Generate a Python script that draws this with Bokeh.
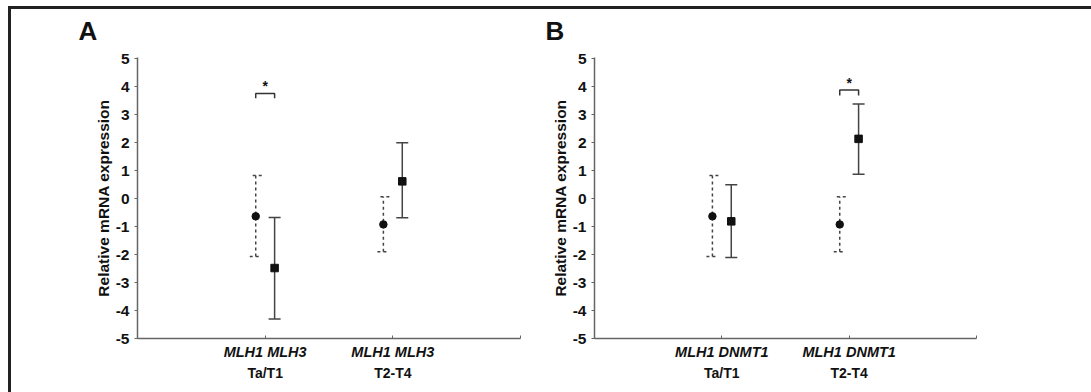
from bokeh.plotting import figure
from bokeh.models import (Whisker, TeeHead, ColumnDataSource, FixedTicker,
                          LinearAxis, Range1d)
from bokeh.layouts import row
from bokeh.embed import file_html
from bokeh.resources import INLINE

# ---------------- data ----------------
stages = ["Ta/T1", "T2-T4"]
y_ticks = [-5, -4, -3, -2, -1, 0, 1, 2, 3, 4, 5]
y_tick_labels = ["-5", "-4", "-3", "-2", "-1", "0", "1", "2", "3", "4", "5"]

mlh1_mean = [-0.63, -0.92]
mlh1_upper = [0.83, 0.07]
mlh1_lower = [-2.07, -1.90]

mlh3_mean = [-2.48, 0.62]
mlh3_upper = [-0.67, 2.00]
mlh3_lower = [-4.30, -0.68]

dnmt1_mean = [-0.81, 2.14]
dnmt1_upper = [0.50, 3.39]
dnmt1_lower = [-2.10, 0.87]

# significance markers: (stage index, bracket top, bracket leg bottom, star y)
sig_A = (0, 3.76, 3.59, 4.02)
sig_B = (1, 3.89, 3.69, 4.15)

FONT = "Liberation Sans"
DARK = "#111111"
LINE = "#444444"
AXC = "#666666"


def make_panel(letter, gene2, mean2, up2, lo2, sig, width, mbl, mbr, title_off):
    p = figure(width=width, height=392, frame_height=281, x_range=Range1d(0, 3),
               y_range=Range1d(-5, 5.05), output_backend="svg",
               toolbar_location=None, min_border_left=mbl,
               min_border_right=mbr, min_border_top=57, min_border_bottom=54)
    p.outline_line_color = None
    p.xgrid.visible = False
    p.ygrid.visible = False
    p.background_fill_color = None
    p.border_fill_color = None

    # panel letter
    p.title.text = letter
    p.title.text_font = FONT
    p.title.text_font_style = "bold"
    p.title.text_font_size = "26px"
    p.title.text_color = DARK
    p.title.align = "left"
    p.title.offset = title_off
    p.title.standoff = 24

    # y axis
    ya = p.yaxis[0]
    ya.ticker = FixedTicker(ticks=y_ticks)
    ya.major_label_overrides = dict(zip(y_ticks, y_tick_labels))
    ya.axis_label = "Relative mRNA expression"
    ya.axis_label_text_font = FONT
    ya.axis_label_text_font_style = "bold"
    ya.axis_label_text_font_size = "15.5px"
    ya.axis_label_text_color = DARK
    ya.axis_label_standoff = 1
    ya.major_label_text_font = FONT
    ya.major_label_text_font_style = "bold"
    ya.major_label_text_font_size = "15.5px"
    ya.major_label_text_color = DARK
    ya.major_label_standoff = 5
    ya.axis_line_color = AXC
    ya.axis_line_width = 1.5
    ya.major_tick_line_color = AXC
    ya.major_tick_in = 0
    ya.major_tick_out = 3
    ya.minor_tick_line_color = None

    # x axis, first label line (gene names, italic)
    xa = p.xaxis[0]
    xa.ticker = FixedTicker(ticks=[0, 1, 2, 3])
    xa.major_label_overrides = {0: "", 1: f"MLH1 {gene2}", 2: f"MLH1 {gene2}", 3: ""}
    xa.major_label_text_font = FONT
    xa.major_label_text_font_style = "bold italic"
    xa.major_label_text_font_size = "14.5px"
    xa.major_label_text_color = DARK
    xa.major_label_standoff = 5
    xa.axis_line_color = AXC
    xa.axis_line_width = 1.5
    xa.major_tick_line_color = AXC
    xa.major_tick_in = 3
    xa.major_tick_out = 0
    xa.minor_tick_line_color = None

    # second label line (stages)
    xb = LinearAxis(ticker=FixedTicker(ticks=[1, 2]),
                    major_label_overrides={1: stages[0], 2: stages[1]})
    xb.axis_line_color = None
    xb.major_tick_line_color = None
    xb.minor_tick_line_color = None
    xb.major_tick_in = 0
    xb.major_tick_out = 0
    xb.major_label_text_font = FONT
    xb.major_label_text_font_style = "bold"
    xb.major_label_text_font_size = "14px"
    xb.major_label_text_color = DARK
    xb.major_label_standoff = 2
    p.add_layout(xb, "below")

    pos = [1, 2]
    off = 0.074
    xc = [v - off for v in pos]
    xs = [v + off for v in pos]

    # MLH1 (dashed whiskers, circles)
    s1 = ColumnDataSource(dict(x=xc, y=mlh1_mean, upper=mlh1_upper, lower=mlh1_lower))
    w1 = Whisker(source=s1, base="x", upper="upper", lower="lower",
                 line_color=LINE, line_width=1.5, line_dash="3 3",
                 upper_head=TeeHead(size=12, line_color=LINE, line_width=1.5, line_dash="3 3"),
                 lower_head=TeeHead(size=12, line_color=LINE, line_width=1.5, line_dash="3 3"))
    p.add_layout(w1)
    p.scatter("x", "y", source=s1, marker="circle", size=7.5,
              fill_color=DARK, line_color=DARK)

    # second gene (solid whiskers, squares)
    s2 = ColumnDataSource(dict(x=xs, y=mean2, upper=up2, lower=lo2))
    w2 = Whisker(source=s2, base="x", upper="upper", lower="lower",
                 line_color=LINE, line_width=1.5,
                 upper_head=TeeHead(size=12, line_color=LINE, line_width=1.5),
                 lower_head=TeeHead(size=12, line_color=LINE, line_width=1.5))
    p.add_layout(w2)
    p.scatter("x", "y", source=s2, marker="square", size=7.5,
              fill_color=DARK, line_color=DARK)

    # significance bracket
    gi, top, leg, star_y = sig
    bx = [xc[gi], xc[gi], xs[gi], xs[gi]]
    by = [leg, top, top, leg]
    p.line(bx, by, line_color="#333333", line_width=1.5)
    p.text(x=[(xc[gi] + xs[gi]) / 2], y=[star_y], text=["*"],
           text_font_size="14px", text_font_style="bold",
           text_align="center", text_baseline="middle", text_color=DARK)
    return p


pA = make_panel("A", "MLH3", mlh3_mean, mlh3_upper, mlh3_lower, sig_A,
                width=545, mbl=137, mbr=25, title_off=-59)
pB = make_panel("B", "DNMT1", dnmt1_mean, dnmt1_upper, dnmt1_lower, sig_B,
                width=546, mbl=49, mbr=115, title_off=-49)

frame_bg = ("linear-gradient(#222222, #222222) 8px 6px / 100% 3px no-repeat, "
            "linear-gradient(#222222, #222222) 8px 6px / 3px 100% no-repeat, "
            "#ffffff")
layout = row(pA, pB, styles={"background": frame_bg})

open("out.html", "w").write(file_html(layout, INLINE))
